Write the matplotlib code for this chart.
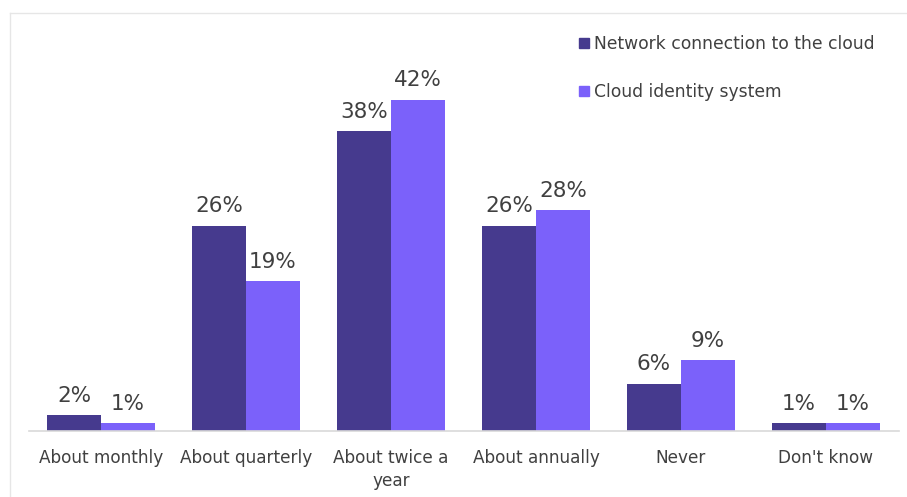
import matplotlib.pyplot as plt
import numpy as np
from matplotlib.lines import Line2D

categories = ["About monthly", "About quarterly", "About twice a\nyear",
              "About annually", "Never", "Don't know"]
network = [2, 26, 38, 26, 6, 1]
identity = [1, 19, 42, 28, 9, 1]
series_names = ["Network connection to the cloud", "Cloud identity system"]

dark = "#463a8e"
light = "#7b61fa"
text_col = "#404040"

plt.rcParams['font.family'] = ['DejaVu Sans']

fig = plt.figure(figsize=(9.07, 4.97), dpi=100)
ax = fig.add_axes([28.5 / 907, 66 / 497, 870 / 907, 355 / 497])

x = np.arange(len(categories))
w = 0.372
b1 = ax.bar(x - w / 2, network, w, color=dark, label=series_names[0])
b2 = ax.bar(x + w / 2, identity, w, color=light, label=series_names[1])

for bars, vals in ((b1, network), (b2, identity)):
    for r, v in zip(bars, vals):
        ax.text(r.get_x() + r.get_width() / 2, v + 1.2, f"{v}%",
                ha="center", va="bottom", fontsize=15.5, color=text_col)

ax.set_xlim(-0.5, len(categories) - 0.5)
ax.set_ylim(0, 45)
ax.set_yticks([])
ax.set_xticks(x)
ax.set_xticklabels(categories, fontsize=12.2, color=text_col, linespacing=1.35)
ax.tick_params(axis="x", length=0, pad=13)
for s in ("top", "right", "left"):
    ax.spines[s].set_visible(False)
ax.spines["bottom"].set_color("#d9d9d9")
ax.spines["bottom"].set_linewidth(1.2)

handles = [Line2D([], [], marker="s", ls="", color=c, markersize=7.5)
           for c in (dark, light)]
leg = ax.legend(handles, series_names, loc="upper left",
                bbox_to_anchor=(569 / 907, 1 - 28 / 497), bbox_transform=fig.transFigure,
                frameon=False, fontsize=12.3, labelspacing=1.75,
                handletextpad=0.05, handlelength=1.0, borderaxespad=0)
for t in leg.get_texts():
    t.set_color(text_col)

# thin frame around the panel
fig.add_artist(Line2D([10 / 907, 10 / 907], [0, 1 - 13 / 497],
                      transform=fig.transFigure, color="#e6e6e6", lw=1))
fig.add_artist(Line2D([10 / 907, 1], [1 - 13 / 497, 1 - 13 / 497],
                      transform=fig.transFigure, color="#e6e6e6", lw=1))

fig.savefig("out.png", dpi=100)
